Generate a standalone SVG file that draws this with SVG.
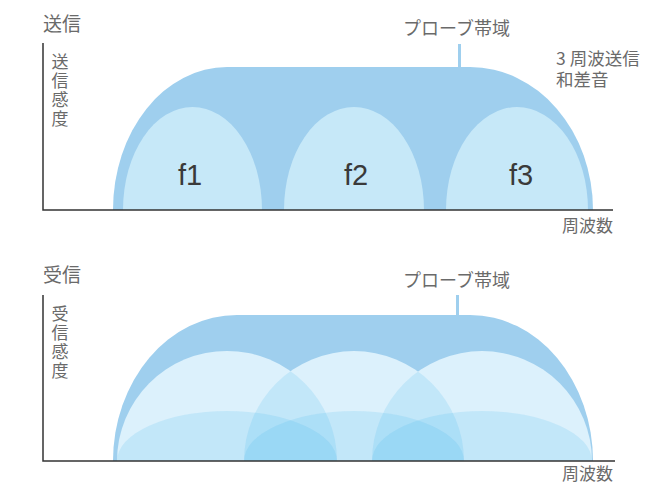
<svg xmlns="http://www.w3.org/2000/svg" width="650" height="484" viewBox="0 0 650 484">
<style>
.lbl{font-family:"Noto Sans CJK JP","Noto Sans",sans-serif;fill:#6a6a6a;font-size:17px}
.vl{font-family:"Noto Sans CJK JP","Noto Sans",sans-serif;fill:#6a6a6a;font-size:17px;writing-mode:vertical-rl;letter-spacing:2px}
.ttl{font-family:"Noto Sans CJK JP","Noto Sans",sans-serif;fill:#6a6a6a;font-size:19px}
.fx{font-family:"Liberation Sans","Noto Sans",sans-serif;fill:#3a3a3a;font-size:29px;text-anchor:middle}
.env{fill:#9fcfee}
.lobe{fill:#c6e8f8}
.big{fill:#dcf1fc}
.ov{fill:rgb(60,180,235);fill-opacity:0.16}
.axis{stroke:#333;stroke-width:1.5;fill:none}
.tick{stroke:#9fcfee;stroke-width:3}
</style>
<defs>
<clipPath id="c1"><path d="M117,461 A110,110 0 0 1 337,461 Z"/></clipPath>
<clipPath id="c2"><path d="M244,461 A110,110 0 0 1 464,461 Z"/></clipPath>
</defs>

<g id="tx-chart">
  <text class="ttl" x="43" y="31">送信</text>
  <path class="env" d="M113,210 A114,143 0 0 1 227,67 L470,67 A123,143 0 0 1 593,210 Z"/>
  <g id="f1"><path class="lobe" d="M123,210 A69.5,103 0 0 1 262,210 Z"/><text class="fx" x="190" y="185">f1</text></g>
  <g id="f2"><path class="lobe" d="M284,210 A70,103 0 0 1 424,210 Z"/><text class="fx" x="356" y="185">f2</text></g>
  <g id="f3"><path class="lobe" d="M446,210 A71,103 0 0 1 588,210 Z"/><text class="fx" x="521" y="185">f3</text></g>
  <line class="tick" x1="459.5" y1="44" x2="459.5" y2="68"/>
  <text class="lbl" x="403" y="35" style="font-size:18px">プローブ帯域</text>
  <text class="lbl" x="556" y="65" style="font-size:17.5px">3 周波送信</text>
  <text class="lbl" x="556" y="86" style="font-size:17.5px">和差音</text>
  <text class="vl" x="60" y="53">送信感度</text>
  <path class="axis" d="M43,43 V210 H613"/>
  <text class="lbl" x="613" y="232" text-anchor="end">周波数</text>
</g>

<g id="rx-chart">
  <text class="ttl" x="43" y="282">受信</text>
  <path class="env" d="M113,461 A124,146 0 0 1 237,315 L470,315 A123,146 0 0 1 593,461 Z"/>
  <g id="r1"><path class="big" d="M117,461 A110,110 0 0 1 337,461 Z"/></g>
  <g id="r2"><path class="big" d="M244,461 A110,110 0 0 1 464,461 Z"/></g>
  <g id="r3"><path class="big" d="M372,461 A110,110 0 0 1 592,461 Z"/></g>
  <path class="ov" clip-path="url(#c1)" d="M244,461 A110,110 0 0 1 464,461 Z"/>
  <path class="ov" clip-path="url(#c2)" d="M372,461 A110,110 0 0 1 592,461 Z"/>
  <path class="ov" d="M117,461 A110,50 0 0 1 337,461 Z"/>
  <path class="ov" d="M244,461 A110,50 0 0 1 464,461 Z"/>
  <path class="ov" d="M372,461 A110,50 0 0 1 592,461 Z"/>
  <line class="tick" x1="457.5" y1="295" x2="457.5" y2="316"/>
  <text class="lbl" x="403" y="287" style="font-size:18px">プローブ帯域</text>
  <text class="vl" x="60" y="305">受信感度</text>
  <path class="axis" d="M43,295 V461 H615"/>
  <text class="lbl" x="613" y="480" text-anchor="end">周波数</text>
</g>
</svg>
